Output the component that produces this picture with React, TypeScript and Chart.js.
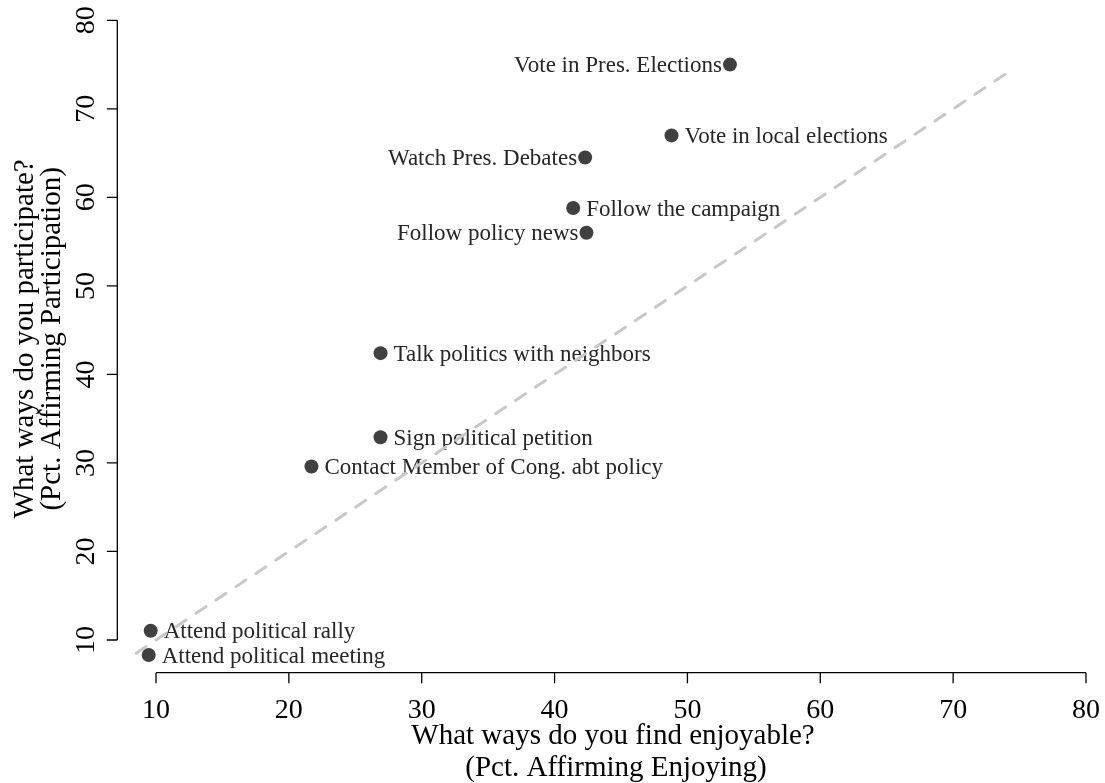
import React, { useEffect, useRef } from "react";
import { Chart, registerables } from "chart.js";

Chart.register(...registerables);

const activities = [
  "Vote in Pres. Elections",
  "Vote in local elections",
  "Watch Pres. Debates",
  "Follow the campaign",
  "Follow policy news",
  "Talk politics with neighbors",
  "Sign political petition",
  "Contact Member of Cong. abt policy",
  "Attend political rally",
  "Attend political meeting",
];
const enjoyPct = [53.2, 48.8, 42.3, 41.4, 42.4, 26.9, 26.9, 21.7, 9.6, 9.45];
const participatePct = [75.0, 67.0, 64.5, 58.8, 56.0, 42.4, 32.9, 29.6, 11.05, 8.3];
const labelSide = ["left", "right", "left", "right", "left", "right", "right", "right", "right", "right"];
const diagonalEnds = [8.5, 74.5];
const xTicks = [10, 20, 30, 40, 50, 60, 70, 80];
const yTicks = [10, 20, 30, 40, 50, 60, 70, 80];
const xTitle = ["What ways do you find enjoyable?", "(Pct. Affirming Enjoying)"];
const yTitle = ["What ways do you participate?", "(Pct. Affirming Participation)"];

const SERIF = '"Liberation Serif", "DejaVu Serif", serif';

const overlayPlugin = {
  id: "rOverlay",
  beforeDatasetsDraw(chart: any) {
    const ctx = chart.ctx;
    const xs = chart.scales.x;
    const ys = chart.scales.y;
    ctx.save();
    ctx.fillStyle = "#262626";
    ctx.font = `23px ${SERIF}`;
    ctx.textBaseline = "alphabetic";
    for (let i = 0; i < activities.length; i++) {
      const px = xs.getPixelForValue(enjoyPct[i]);
      const py = ys.getPixelForValue(participatePct[i]);
      if (labelSide[i] === "right") {
        ctx.textAlign = "left";
        ctx.fillText(activities[i], px + 13, py + 7.6);
      } else {
        ctx.textAlign = "right";
        ctx.fillText(activities[i], px - 8, py + 7.6);
      }
    }
    ctx.restore();
  },
  afterDraw(chart: any) {
    const ctx = chart.ctx;
    const xs = chart.scales.x;
    const ys = chart.scales.y;
    const axisY = chart.chartArea.bottom;
    const axisX = chart.chartArea.left;
    const tickLen = 10.5;
    ctx.save();
    ctx.strokeStyle = "#000";
    ctx.fillStyle = "#000";
    ctx.lineWidth = 1.3;

    // x axis
    const xa = xs.getPixelForValue(xTicks[0]);
    const xb = xs.getPixelForValue(xTicks[xTicks.length - 1]);
    ctx.beginPath();
    ctx.moveTo(xa, axisY);
    ctx.lineTo(xb, axisY);
    for (const t of xTicks) {
      const px = xs.getPixelForValue(t);
      ctx.moveTo(px, axisY);
      ctx.lineTo(px, axisY + tickLen);
    }
    ctx.stroke();

    // y axis
    const ya = ys.getPixelForValue(yTicks[0]);
    const yb = ys.getPixelForValue(yTicks[yTicks.length - 1]);
    ctx.beginPath();
    ctx.moveTo(axisX, ya);
    ctx.lineTo(axisX, yb);
    for (const t of yTicks) {
      const py = ys.getPixelForValue(t);
      ctx.moveTo(axisX, py);
      ctx.lineTo(axisX - tickLen, py);
    }
    ctx.stroke();

    // tick labels
    ctx.font = `28px ${SERIF}`;
    ctx.textAlign = "center";
    ctx.textBaseline = "alphabetic";
    for (const t of xTicks) {
      ctx.fillText(String(t), xs.getPixelForValue(t), axisY + 45.6);
    }
    for (const t of yTicks) {
      ctx.save();
      ctx.translate(axisX - 23.8, ys.getPixelForValue(t));
      ctx.rotate(-Math.PI / 2);
      ctx.fillText(String(t), 0, 0);
      ctx.restore();
    }

    // axis titles
    ctx.font = `29px ${SERIF}`;
    ctx.fillText(xTitle[0], 613, axisY + 71.6);
    ctx.fillText(xTitle[1], 616, axisY + 103);
    ctx.save();
    ctx.translate(33.3, (chart.chartArea.top + chart.chartArea.bottom) / 2);
    ctx.rotate(-Math.PI / 2);
    ctx.fillText(yTitle[0], 0, 0);
    ctx.fillText(yTitle[1], 0, 26.5);
    ctx.restore();

    ctx.restore();
  },
};

export default function App() {
  const canvasRef = useRef<HTMLCanvasElement | null>(null);

  useEffect(() => {
    if (!canvasRef.current) return;
    const points = enjoyPct.map((x, i) => ({ x, y: participatePct[i] }));
    const diag = diagonalEnds.map((v) => ({ x: v, y: v }));
    const chart = new Chart(canvasRef.current, {
      type: "scatter",
      data: {
        datasets: [
          {
            type: "line",
            data: diag,
            borderColor: "#c8c8c8",
            borderWidth: 3,
            borderDash: [12, 12],
            borderCapStyle: "round",
            pointRadius: 0,
            fill: false,
            order: 0,
          } as any,
          {
            type: "scatter",
            data: points,
            backgroundColor: "#404040",
            borderWidth: 0,
            pointRadius: 7,
            pointHoverRadius: 7,
            order: 1,
          } as any,
        ],
      },
      options: {
        animation: false,
        responsive: false,
        devicePixelRatio: 1,
        layout: { autoPadding: false, padding: { left: 117.3, right: 0, top: 5, bottom: 110.3 } },
        plugins: {
          legend: { display: false },
          tooltip: { enabled: false },
        },
        events: [],
        scales: {
          x: { type: "linear", min: 7.087, max: 81.43, display: false },
          y: { type: "linear", min: 6.306, max: 81.73, display: false },
        },
      },
      plugins: [overlayPlugin],
    });
    return () => chart.destroy();
  }, []);

  return (
    <div style={{ position: "fixed", left: 0, top: 0, width: 1105, height: 783, background: "#fff" }}>
      <canvas ref={canvasRef} width={1105} height={783} style={{ display: "block" }} />
    </div>
  );
}
